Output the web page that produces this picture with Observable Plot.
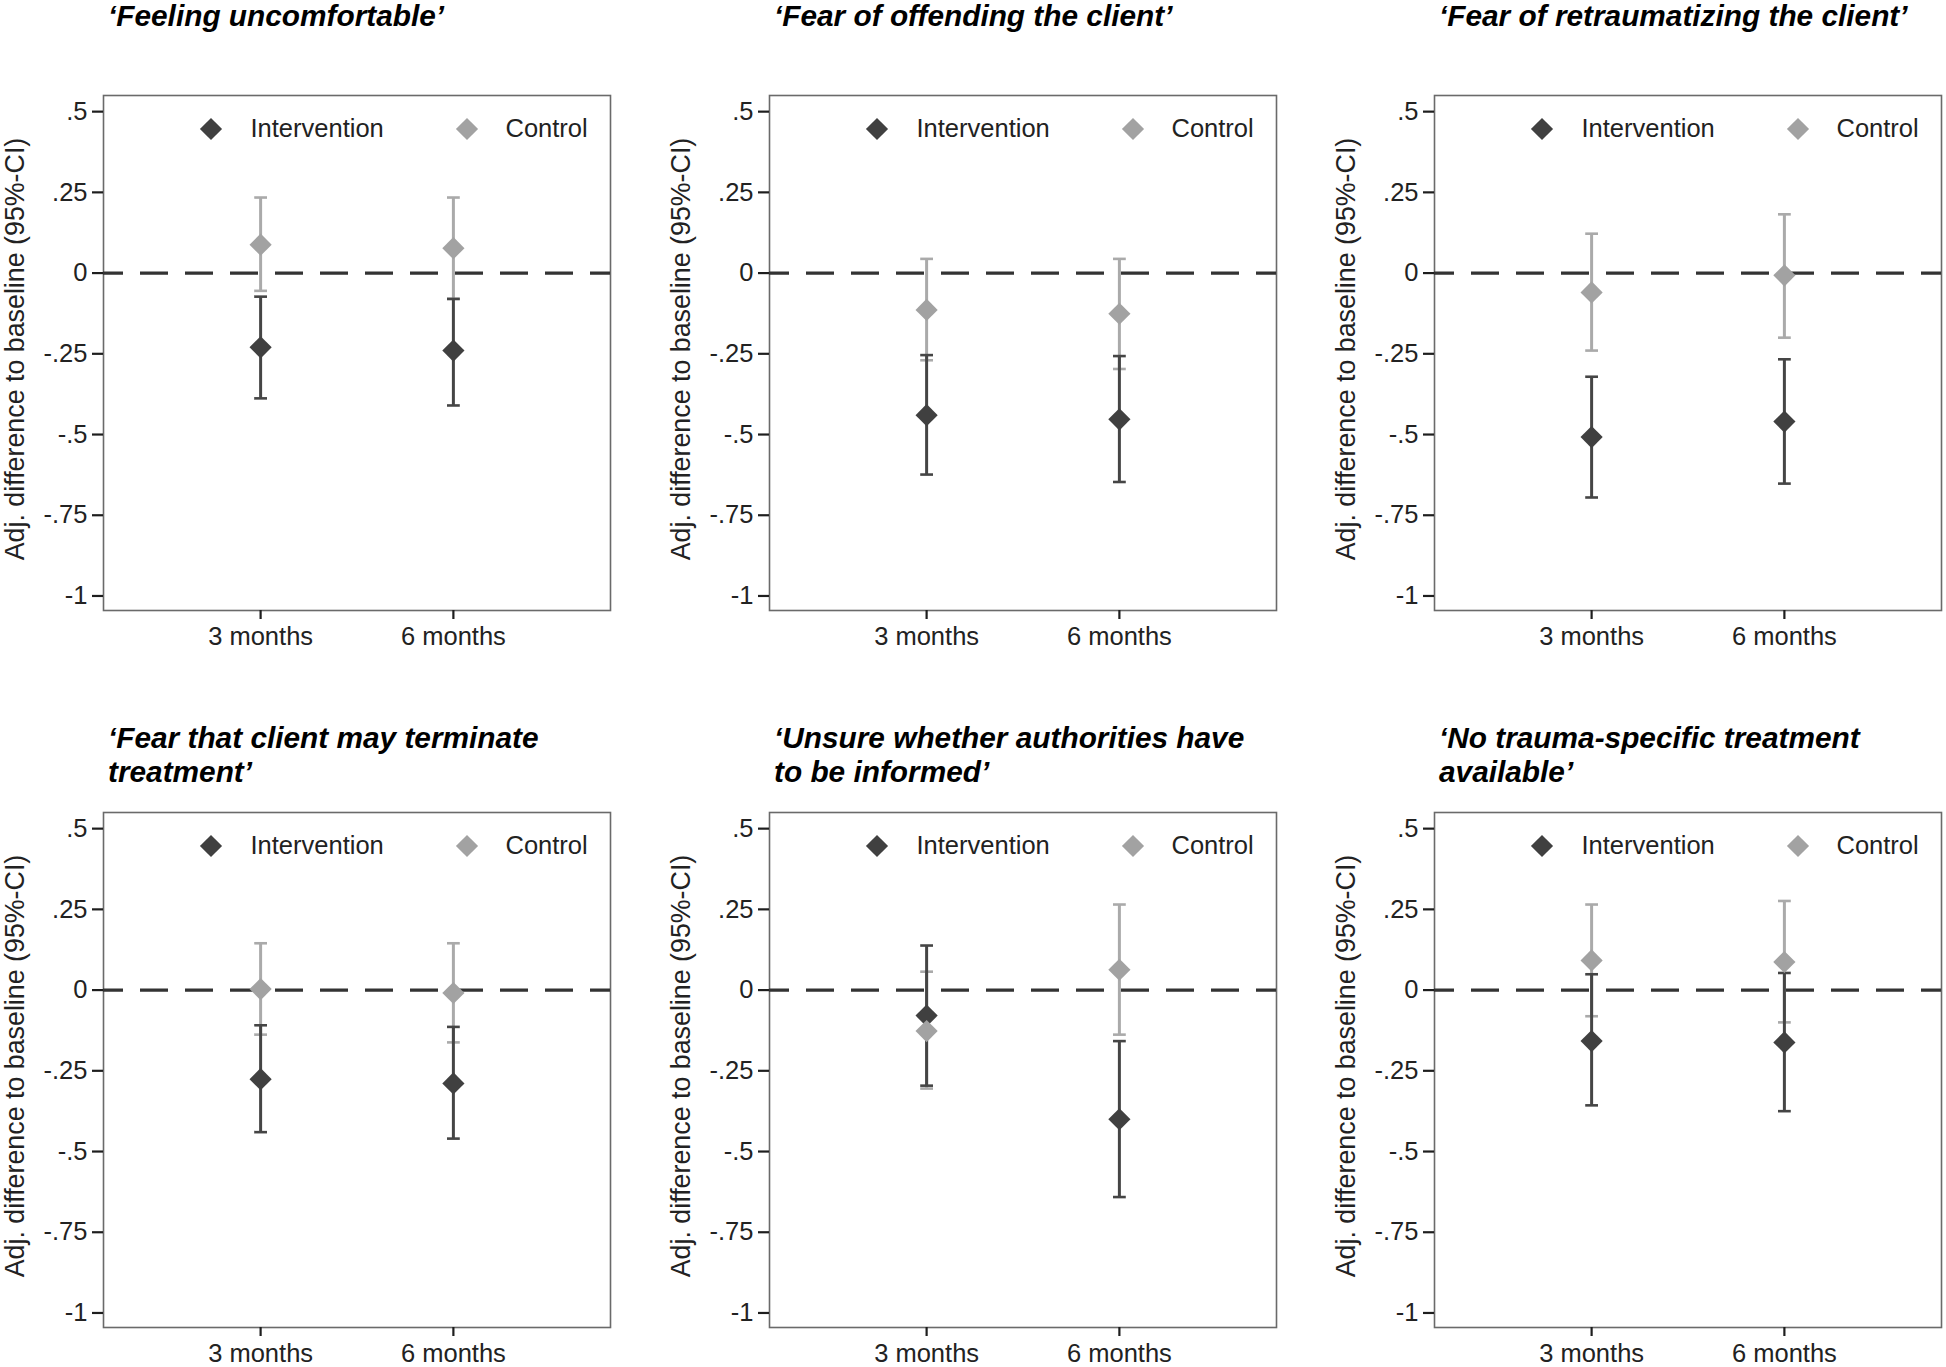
<!DOCTYPE html>
<html>
<head>
<meta charset="utf-8">
<script src="https://cdn.jsdelivr.net/npm/d3@7"></script>
<script src="https://cdn.jsdelivr.net/npm/@observablehq/plot@0.6"></script>
<style>
html, body { margin: 0; padding: 0; background: #fff; overflow: hidden; }
#fig { position: relative; width: 1946px; height: 1367px; background: #fff;
  font-family: "Liberation Sans", Arial, Helvetica, sans-serif; }
.panel { position: absolute; }
.title { position: absolute; font-weight: bold; font-style: italic; font-size: 29.8px;
  line-height: 34px; color: #000; white-space: nowrap; }
</style>
</head>
<body>
<div id="fig"></div>
<script>
// ---------- data ----------
const titleLines = [
  ["‘Feeling uncomfortable’"],
  ["‘Fear of offending the client’"],
  ["‘Fear of retraumatizing the client’"],
  ["‘Fear that client may terminate", "treatment’"],
  ["‘Unsure whether authorities have", "to be informed’"],
  ["‘No trauma-specific treatment", "available’"]
];
const timepoints = ["3 months", "6 months"];
const timeValues = [1, 2];
const groups = ["Intervention", "Control"];

const intEst = [[-0.230, -0.240], [-0.440, -0.453], [-0.508, -0.460], [-0.276, -0.289], [-0.079, -0.400], [-0.158, -0.162]];
const intLo  = [[-0.388, -0.410], [-0.624, -0.647], [-0.695, -0.652], [-0.440, -0.460], [-0.296, -0.641], [-0.357, -0.375]];
const intHi  = [[-0.073, -0.080], [-0.254, -0.257], [-0.321, -0.267], [-0.109, -0.114], [ 0.138, -0.158], [ 0.049,  0.053]];

const ctrlEst = [[ 0.088,  0.077], [-0.114, -0.126], [-0.060, -0.007], [ 0.003, -0.009], [-0.127,  0.063], [ 0.092,  0.087]];
const ctrlLo  = [[-0.055, -0.080], [-0.270, -0.297], [-0.240, -0.200], [-0.138, -0.162], [-0.305, -0.138], [-0.081, -0.100]];
const ctrlHi  = [[ 0.234,  0.234], [ 0.044,  0.044], [ 0.122,  0.182], [ 0.145,  0.145], [ 0.057,  0.265], [ 0.265,  0.276]];

const yTicks = [0.5, 0.25, 0, -0.25, -0.5, -0.75, -1];
const yTickLabels = [".5", ".25", "0", "-.25", "-.5", "-.75", "-1"];
const yLabel = "Adj. difference to baseline (95%-CI)";

// ---------- styling / layout ----------
const colors = { Intervention: "#404040", Control: "#a2a2a2" };
const barColors = { Intervention: "#454545", Control: "#aaaaaa" };
const frameLefts = [103, 769, 1434];
const frameTops = [95, 812];
const frameW = 507, frameH = 515;
const mL = 103, mR = 4, mT = 15;
const mBs = [48, 40];
const fontSize = 25.5;

const capSymbol = {
  draw(context, size) {
    const w = Math.sqrt(size / Math.PI);
    context.moveTo(-w, 0);
    context.lineTo(w, 0);
  }
};

const fig = document.getElementById("fig");

titleLines.forEach((lines, p) => {
  const row = Math.floor(p / 3), col = p % 3;
  const rows = [];
  groups.forEach(g => {
    timeValues.forEach((t, i) => {
      const est = g === "Intervention" ? intEst[p][i] : ctrlEst[p][i];
      const lo = g === "Intervention" ? intLo[p][i] : ctrlLo[p][i];
      const hi = g === "Intervention" ? intHi[p][i] : ctrlHi[p][i];
      rows.push({ t, group: g, est, lo, hi });
    });
  });
  const ctrl = rows.filter(d => d.group === "Control");
  const intv = rows.filter(d => d.group === "Intervention");

  const legendMarks = [];
  const legendPos = [[107.5, 147], [363.5, 402]];
  groups.forEach((g, i) => {
    legendMarks.push(Plot.dot([g], { frameAnchor: "top-left", dx: legendPos[i][0], dy: 33.5,
      symbol: "diamond2", r: 10, fill: colors[g], stroke: "none" }));
    legendMarks.push(Plot.text([g], { frameAnchor: "top-left", dx: legendPos[i][1], dy: 33.5,
      text: d => d, textAnchor: "start", lineAnchor: "middle", fill: "#222", fontSize }));
  });

  const mB = mBs[row];
  const chart = Plot.plot({
    width: mL + frameW + mR,
    height: mT + frameH + mB,
    marginLeft: mL, marginRight: mR, marginTop: mT, marginBottom: mB,
    style: { fontFamily: "'Liberation Sans', Arial, Helvetica, sans-serif", fontSize: fontSize + "px", background: "#fff", color: "#222", overflow: "visible" },
    x: { domain: [0.185, 2.815] },
    y: { domain: [-1.045, 0.55] },
    marks: [
      Plot.frame({ stroke: "#6a6a6a", strokeWidth: 1.6 }),
      Plot.axisY({ ticks: yTicks, tickFormat: d => yTickLabels[yTicks.indexOf(d)], tickSize: 11, tickPadding: 5,
        label: null, line: true, stroke: "#1e1e1e", strokeWidth: 2.2, fill: "#222", fontSize }),
      Plot.axisX({ ticks: timeValues, tickFormat: d => timepoints[timeValues.indexOf(d)], tickSize: 9, tickPadding: 7,
        label: null, line: true, stroke: "#1e1e1e", strokeWidth: 2.2, fill: "#222", fontSize }),
      Plot.text([yLabel], { frameAnchor: "left", rotate: -90, dx: -88, dy: -4, text: d => d,
        textAnchor: "middle", lineAnchor: "middle", fill: "#222", fontSize: 26.8 }),
      // error bars: control first, intervention on top
      Plot.ruleX(ctrl, { x: "t", y1: "lo", y2: "hi", stroke: barColors.Control, strokeWidth: 3 }),
      Plot.dot(ctrl, { x: "t", y: "lo", symbol: capSymbol, r: 6.4, fill: "none", stroke: barColors.Control, strokeWidth: 2.6 }),
      Plot.dot(ctrl, { x: "t", y: "hi", symbol: capSymbol, r: 6.4, fill: "none", stroke: barColors.Control, strokeWidth: 2.6 }),
      Plot.ruleX(intv, { x: "t", y1: "lo", y2: "hi", stroke: barColors.Intervention, strokeWidth: 3 }),
      Plot.dot(intv, { x: "t", y: "lo", symbol: capSymbol, r: 6.4, fill: "none", stroke: barColors.Intervention, strokeWidth: 2.6 }),
      Plot.dot(intv, { x: "t", y: "hi", symbol: capSymbol, r: 6.4, fill: "none", stroke: barColors.Intervention, strokeWidth: 2.6 }),
      // reference line at zero
      Plot.ruleY([0], { stroke: "#333", strokeWidth: 3.3, strokeDasharray: "28,17", strokeDashoffset: 8 }),
      // point estimates
      Plot.dot(intv, { x: "t", y: "est", symbol: "diamond2", r: 10, fill: colors.Intervention, stroke: "none" }),
      Plot.dot(ctrl, { x: "t", y: "est", symbol: "diamond2", r: 10, fill: colors.Control, stroke: "none" }),
      ...legendMarks
    ]
  });

  const wrap = document.createElement("div");
  wrap.className = "panel";
  wrap.style.left = (frameLefts[col] - mL) + "px";
  wrap.style.top = (frameTops[row] - mT) + "px";
  wrap.appendChild(chart);
  fig.appendChild(wrap);

  const title = document.createElement("div");
  title.className = "title";
  title.style.left = (frameLefts[col] + 5) + "px";
  title.style.top = (row === 0 ? -1 : 721) + "px";
  title.innerHTML = lines.map(l => l.replace(/&/g, "&amp;").replace(/</g, "&lt;")).join("<br>");
  fig.appendChild(title);
});
</script>
</body>
</html>
